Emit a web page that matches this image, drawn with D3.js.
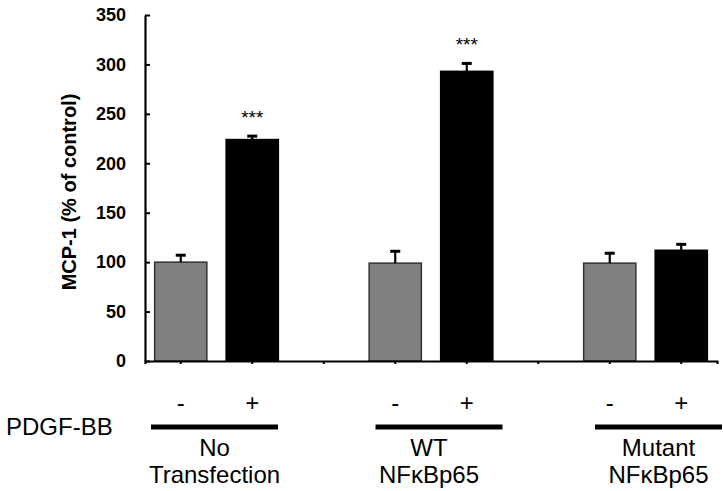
<!DOCTYPE html>
<html>
<head>
<meta charset="utf-8">
<script src="https://cdn.jsdelivr.net/npm/d3@7"></script>
<style>
  body { margin: 0; background: #fff; }
  text { font-family: "Liberation Sans", Arial, sans-serif; }
</style>
</head>
<body>
<svg id="chart" width="723" height="491"></svg>
<script>
// groups along the x axis, and the PDGF-BB treatment inside each group
const groups = ["No Transfection", "WT NFκBp65", "Mutant NFκBp65"];
const groupLines = [["No", "Transfection"], ["WT", "NFκBp65"], ["Mutant", "NFκBp65"]];
const treatments = ["-", "+"];
// MCP-1 (% of control), one pair per group: [-, +]
const means = [[100, 224], [99, 293], [99, 112]];
const errors = [[7, 3.5], [12, 8], [10, 6]];
const stars = [["", "***"], ["", "***"], ["", ""]];
const yTicks = [0, 50, 100, 150, 200, 250, 300, 350];

(function(){
    const svg = d3.select("#chart");
    const left = 145, right = 717, top = 15, bottom = 361;

    // one slot per bar, with an empty slot between the groups
    const slots = [];
    groups.forEach((g, gi) => {
        treatments.forEach(t => slots.push(g + t));
        if (gi < groups.length - 1) slots.push("gap" + gi);
    });

    const x = d3.scaleBand()
        .domain(slots)
        .range([left, right])
        .paddingInner(0.27)
        .paddingOuter(0.135);

    const y = d3.scaleLinear()
        .domain([0, 350])
        .range([bottom, top]);

    const data = [];
    groups.forEach((g, gi) => treatments.forEach((t, ti) => data.push({
        key: g + t, group: gi, treat: ti,
        value: means[gi][ti], err: errors[gi][ti], star: stars[gi][ti]
    })));

    // bars
    svg.append("g").selectAll("rect")
        .data(data)
        .enter()
        .append("rect")
            .attr("x", d => x(d.key))
            .attr("y", d => y(d.value))
            .attr("width", x.bandwidth())
            .attr("height", d => y(0) - y(d.value))
            .attr("fill", d => d.treat === 0 ? "#808080" : "#000")
            .attr("stroke", d => d.treat === 0 ? "#333" : "#000")
            .attr("stroke-width", 1.5);

    // upper error bars
    const eb = svg.append("g").attr("stroke", "#000").attr("stroke-width", 2.2);
    data.forEach(d => {
        const cx = x(d.key) + x.bandwidth() / 2;
        eb.append("line")
            .attr("x1", cx).attr("x2", cx)
            .attr("y1", y(d.value)).attr("y2", y(d.value + d.err));
        eb.append("line")
            .attr("x1", cx - 5).attr("x2", cx + 5)
            .attr("y1", y(d.value + d.err)).attr("y2", y(d.value + d.err))
            .attr("stroke-width", 3);
    });

    // significance stars
    svg.append("g").selectAll("text")
        .data(data.filter(d => d.star))
        .enter()
        .append("text")
            .attr("x", d => x(d.key) + x.bandwidth() / 2)
            .attr("y", d => y(d.value + d.err) - 12)
            .attr("text-anchor", "middle")
            .attr("font-size", "19px")
            .text(d => d.star);

    // y axis
    const yAxis = svg.append("g")
        .attr("transform", "translate(" + left + ",0)")
        .call(d3.axisLeft(y).tickValues(yTicks).tickSizeInner(-5).tickSizeOuter(0).tickPadding(19));
    yAxis.select(".domain").attr("stroke-width", 2.2);
    yAxis.selectAll(".tick line").attr("stroke-width", 2);
    yAxis.selectAll(".tick text")
        .attr("font-family", "'Liberation Sans', Arial, sans-serif")
        .attr("font-size", "18px")
        .attr("font-weight", "bold")
        .attr("fill", "#000");

    // x axis: small ticks at every slot center
    const xAxis = svg.append("g")
        .attr("transform", "translate(0," + bottom + ")")
        .call(d3.axisBottom(x).tickFormat("").tickSizeInner(3).tickSizeOuter(3));
    xAxis.select(".domain").attr("stroke-width", 2.2);
    xAxis.selectAll(".tick line").attr("stroke-width", 2);

    // y title
    svg.append("text")
        .attr("transform", "translate(76,192) rotate(-90)")
        .attr("text-anchor", "middle")
        .attr("font-size", "20px")
        .attr("font-weight", "bold")
        .text("MCP-1 (% of control)");

    // treatment row
    const lineShift = [-2, 8, 13];
    const labelShift = [-2, -2, 13];
    svg.append("text")
        .attr("x", 6).attr("y", 435)
        .attr("font-size", "24px")
        .text("PDGF-BB");

    groups.forEach((g, gi) => {
        const c0 = x(g + treatments[0]) + x.bandwidth() / 2;
        const c1 = x(g + treatments[1]) + x.bandwidth() / 2;
        const mid = (c0 + c1) / 2;
        treatments.forEach((t, ti) => {
            svg.append("text")
                .attr("x", ti === 0 ? c0 : c1)
                .attr("y", 411)
                .attr("text-anchor", "middle")
                .attr("font-size", "24px")
                .text(t);
        });
        svg.append("line")
            .attr("x1", mid + lineShift[gi] - 63.5)
            .attr("x2", mid + lineShift[gi] + 63.5)
            .attr("y1", 427).attr("y2", 427)
            .attr("stroke", "#000")
            .attr("stroke-width", 5);
        svg.append("text")
            .attr("x", mid + labelShift[gi])
            .attr("y", 456)
            .attr("text-anchor", "middle")
            .attr("font-size", "24px")
            .selectAll("tspan")
            .data(groupLines[gi])
            .enter()
            .append("tspan")
                .attr("x", mid + labelShift[gi])
                .attr("dy", (d, i) => i === 0 ? 0 : 27)
                .text(d => d);
    });
})()
</script>
</body>
</html>
